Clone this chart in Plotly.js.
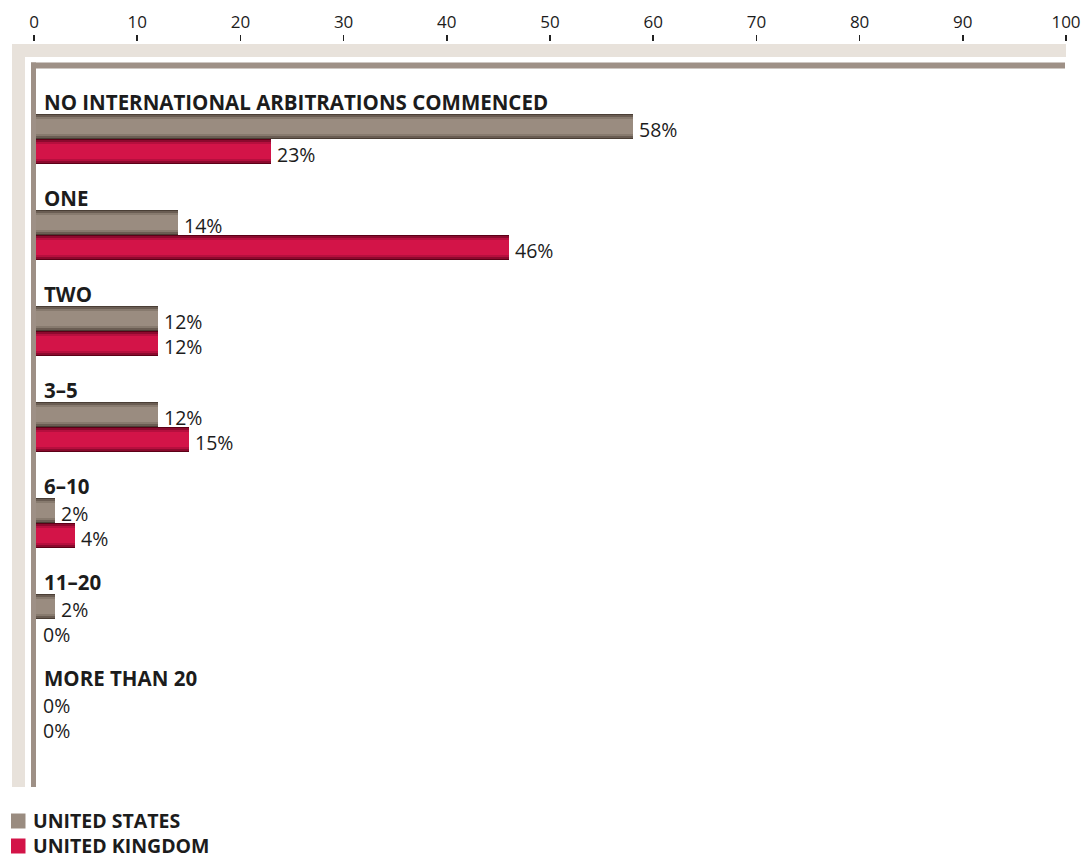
<!DOCTYPE html>
<html>
<head>
<meta charset="utf-8">
<script src="https://cdn.plot.ly/plotly-3.0.1.min.js"></script>
<style>html,body{margin:0;padding:0;background:#fff;}#chart{width:1084px;height:859px;}</style>
</head>
<body>
<div id="chart"></div>
<script>
// ---- data ----
var categories = ["NO INTERNATIONAL ARBITRATIONS COMMENCED", "ONE", "TWO", "3–5", "6–10", "11–20", "MORE THAN 20"];
var usValues = [58, 14, 12, 12, 2, 2, 0];
var ukValues = [23, 46, 12, 15, 4, 0, 0];
var seriesNames = ["UNITED STATES", "UNITED KINGDOM"];
var xTicks = [0, 10, 20, 30, 40, 50, 60, 70, 80, 90, 100];

// ---- layout geometry (pixels) ----
var W = 1084, H = 859;
var M = {l: 34, r: 18, t: 42, b: 72};
var plotW = W - M.l - M.r, plotH = H - M.t - M.b;
var slotPx = 96;
var yMax = plotH / slotPx;
var labelOff = 0.625, usOff = 0.880, ukOff = 1.141, barW = 0.262;
function px2x(px){ return (px - M.l) / plotW; }
function px2y(py){ return (H - M.b - py) / plotH; }

var FONT = "Open Sans, Lato, sans-serif";
var TXT = "#1c1c1c";

var grayLayers = [[1.0, "#4a3e35"], [0.88, "#6a5d53"], [0.76, "#877a6e"], [0.6, "#9a8c80"]];
var redLayers  = [[1.0, "#5c0017"], [0.88, "#8c0a2e"], [0.76, "#b60f3e"], [0.6, "#d31448"]];

var traces = [];
function addSeries(vals, off, layers, name){
  var ys = vals.map(function(v, i){ return i + off; });
  layers.forEach(function(L){
    traces.push({
      type: "bar", orientation: "h", name: name,
      x: vals, y: ys,
      width: vals.map(function(){ return barW * L[0]; }),
      marker: {color: L[1], line: {width: 0}},
      showlegend: false, hoverinfo: "x+name"
    });
  });
}
addSeries(usValues, usOff, grayLayers, seriesNames[0]);
addSeries(ukValues, ukOff, redLayers, seriesNames[1]);

var annotations = [];
categories.forEach(function(c, i){
  annotations.push({x: 0, y: i + labelOff, xref: "x", yref: "y", text: c, showarrow: false,
    xanchor: "left", yanchor: "middle", xshift: 8,
    font: {family: FONT, size: 20.5, color: TXT, weight: 700}});
  annotations.push({x: usValues[i], y: i + usOff, xref: "x", yref: "y", text: usValues[i] + "%", showarrow: false,
    xanchor: "left", yanchor: "middle", xshift: usValues[i] === 0 ? 7 : 4, yshift: -3,
    font: {family: FONT, size: 19.5, color: TXT}});
  annotations.push({x: ukValues[i], y: i + ukOff, xref: "x", yref: "y", text: ukValues[i] + "%", showarrow: false,
    xanchor: "left", yanchor: "middle", xshift: ukValues[i] === 0 ? 7 : 4, yshift: -3,
    font: {family: FONT, size: 19.5, color: TXT}});
});
// legend
var legendColors = ["#9a8c80", "#d31448"];
var legendY = [820, 845];
var shapes = [];
seriesNames.forEach(function(n, i){
  shapes.push({type: "rect", xref: "paper", yref: "paper", layer: "above",
    x0: px2x(11), x1: px2x(25.5), y0: px2y(legendY[i] - 6.5), y1: px2y(legendY[i] + 8.5),
    fillcolor: legendColors[i], line: {width: 0}});
  annotations.push({xref: "paper", yref: "paper", x: px2x(32), y: px2y(legendY[i]), text: n, showarrow: false,
    xanchor: "left", yanchor: "middle", borderpad: 0, font: {family: FONT, size: 19.5, color: TXT, weight: 700}});
});
// frame
var light = "#e8e2db", dark = "#9e9086";
shapes.push({type: "rect", xref: "paper", yref: "paper", layer: "above", x0: px2x(12), x1: px2x(1066), y0: px2y(57), y1: px2y(44), fillcolor: light, line: {width: 0}});
shapes.push({type: "rect", xref: "paper", yref: "paper", layer: "above", x0: px2x(12), x1: px2x(25), y0: px2y(787), y1: px2y(44), fillcolor: light, line: {width: 0}});
shapes.push({type: "rect", xref: "paper", yref: "paper", layer: "above", x0: px2x(31), x1: px2x(1065), y0: px2y(68.5), y1: px2y(62.5), fillcolor: dark, line: {width: 0}});
shapes.push({type: "rect", xref: "paper", yref: "paper", layer: "above", x0: px2x(31), x1: px2x(36), y0: px2y(787), y1: px2y(62.5), fillcolor: dark, line: {width: 0}});

var layout = {
  width: W, height: H,
  margin: M,
  paper_bgcolor: "#ffffff", plot_bgcolor: "#ffffff",
  barmode: "overlay", bargap: 0,
  showlegend: false,
  xaxis: {range: [0, 100], side: "top", tickvals: xTicks, ticktext: xTicks.map(String),
    ticks: "outside", ticklen: 6, tickwidth: 1.5, tickcolor: "#222",
    showgrid: false, zeroline: false, showline: false, fixedrange: true,
    tickfont: {family: FONT, size: 17, color: TXT}},
  yaxis: {range: [yMax, 0], visible: false, showgrid: false, zeroline: false, fixedrange: true},
  annotations: annotations,
  shapes: shapes
};
Plotly.newPlot("chart", traces, layout, {displayModeBar: false, staticPlot: true});
</script>
</body>
</html>
